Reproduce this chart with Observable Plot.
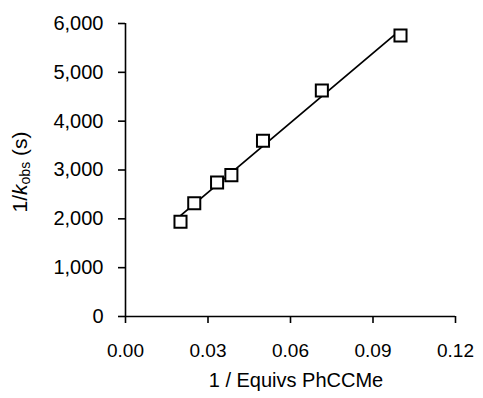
<!DOCTYPE html>
<html>
<head>
<meta charset="utf-8">
<script src="https://cdn.jsdelivr.net/npm/d3@7"></script>
<script src="https://cdn.jsdelivr.net/npm/@observablehq/plot@0.6"></script>
<style>
  html, body { margin: 0; padding: 0; background: #fff; }
  #chart svg { display: block; }
</style>
</head>
<body>
<div id="chart"></div>
<script>
// Data
const invEquivs = [0.02, 0.025, 0.0333, 0.0385, 0.05, 0.0714, 0.1];
const invKobs = [1940, 2320, 2745, 2895, 3600, 4630, 5755];
const xTicks = [0, 0.03, 0.06, 0.09, 0.12];
const yTicks = [0, 1000, 2000, 3000, 4000, 5000, 6000];
const xTitle = "1 / Equivs PhCCMe";

const data = invEquivs.map((x, i) => ({x, y: invKobs[i]}));

const font = "'Liberation Sans', Arial, sans-serif";

const plot = Plot.plot({
  width: 483,
  height: 398,
  marginLeft: 125,
  marginRight: 28,
  marginTop: 23,
  marginBottom: 82,
  style: {fontFamily: font, background: "#fff", color: "#000"},
  x: {domain: [0, 0.12]},
  y: {domain: [0, 6000]},
  marks: [
    Plot.axisX({ticks: xTicks, tickFormat: d3.format(".2f"), tickSize: 7, tickPadding: 20, fontSize: 19, strokeWidth: 1.6, label: null}),
    Plot.axisY({ticks: yTicks, tickFormat: d3.format(","), tickSize: 7, tickPadding: 15, fontSize: 20, strokeWidth: 1.6, label: null}),
    Plot.ruleY([0], {stroke: "#000", strokeWidth: 1.6}),
    Plot.ruleX([0], {stroke: "#000", strokeWidth: 1.6}),
    Plot.linearRegressionY(data, {x: "x", y: "y", ci: 0, stroke: "#000", strokeWidth: 1.8}),
    Plot.dot(data, {x: "x", y: "y", symbol: "square", r: 6.8, stroke: "#000", strokeWidth: 2, fill: "#fff"})
  ]
});

document.getElementById("chart").appendChild(plot);

const svg = d3.select(plot);
// x-axis title
svg.append("text")
  .attr("x", 296)
  .attr("y", 387)
  .attr("text-anchor", "middle")
  .attr("font-family", font)
  .attr("font-size", 20)
  .attr("fill", "#000")
  .text(xTitle);

// y-axis title with italic k and subscript obs
const yt = svg.append("text")
  .attr("transform", "translate(27,172) rotate(-90)")
  .attr("text-anchor", "middle")
  .attr("font-family", font)
  .attr("font-size", 21)
  .attr("fill", "#000");
yt.append("tspan").text("1/");
yt.append("tspan").attr("font-style", "italic").text("k");
yt.append("tspan").attr("font-size", 14).attr("dy", 3).text("obs");
yt.append("tspan").attr("dy", -3).text(" (s)");
</script>
</body>
</html>
